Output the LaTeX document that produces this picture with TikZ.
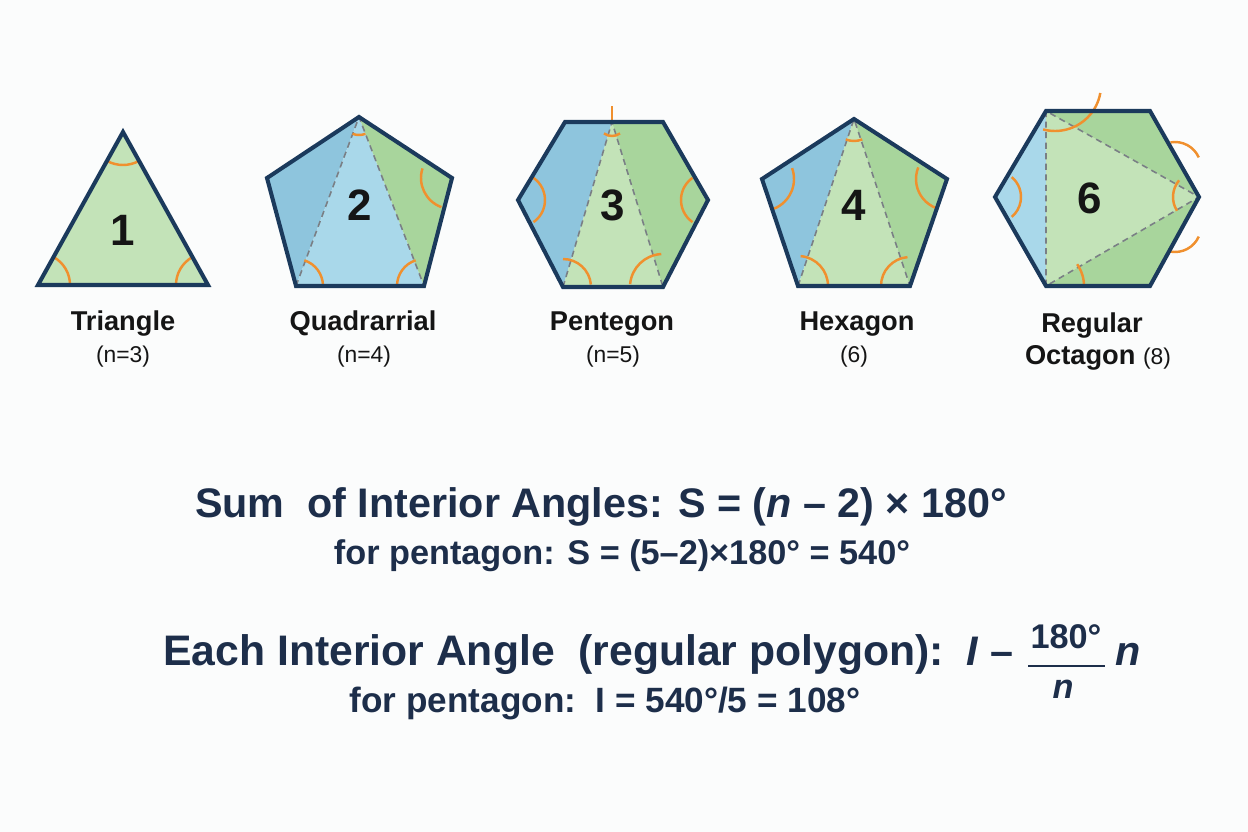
\documentclass[tikz,border=0pt]{standalone}
\usepackage{fontspec}
\setmainfont{Liberation Sans}
\usetikzlibrary{positioning}
\definecolor{paper}{HTML}{FBFCFC}
\definecolor{rimblue}{HTML}{1B3A5C}
\definecolor{deepsky}{HTML}{8EC5DD}
\definecolor{palesky}{HTML}{A9D8EA}
\definecolor{deepleaf}{HTML}{A8D59C}
\definecolor{paleleaf}{HTML}{C3E3B8}
\definecolor{angorange}{HTML}{F0902E}
\definecolor{splitgray}{HTML}{7A7F85}
\definecolor{ink}{HTML}{1D2E4A}
\definecolor{labelink}{HTML}{151515}
\tikzset{every node/.style={inner sep=0pt},
  rim/.style={draw=rimblue, line width=2.3pt, line join=miter},
  diagline/.style={draw=splitgray, line width=0.9pt, dash pattern=on 3.5pt off 2.5pt},
  ang/.style={draw=angorange, line width=1.4pt},
  bignum/.style={anchor=base, text=labelink, font=\bfseries\fontsize{25}{29}\selectfont},
  shapename/.style={anchor=base, text=labelink, font=\bfseries\fontsize{15.5}{18}\selectfont},
  ncount/.style={anchor=base, text=labelink, font=\fontsize{13}{16}\selectfont},
  rulebig/.style={anchor=base, text=ink, font=\bfseries\fontsize{23.5}{28}\selectfont},
  rulesmall/.style={anchor=base, text=ink, font=\bfseries\fontsize{19.5}{23}\selectfont}}

\begin{document}
\begin{tikzpicture}[x=0.02cm,y=-0.02cm]
  \useasboundingbox[fill=paper] (0,0) rectangle (1248,832);
  % triangle
  \coordinate (tA) at (123,132); \coordinate (tB) at (38,285); \coordinate (tC) at (208,285);
  \fill[paleleaf] (tA) -- (tB) -- (tC) -- cycle;
  \draw[ang] (tA) ++(61:33) arc[start angle=61, end angle=119, radius=33];
  \draw[ang] (tB) ++(-61:32) arc[start angle=-61, end angle=0, radius=32];
  \draw[ang] (tC) ++(180:32) arc[start angle=180, end angle=241, radius=32];
  \draw[rim] (tA) -- (tB) -- (tC) -- cycle;
  \node[bignum] (num1) at (123,245) {1};
  \node[shapename] (name1) at (123,330) {Triangle};
  \node[ncount] (cnt1) at (123,362) {(n=3)};
  % first pentagon
  \coordinate (pT) at (359,117); \coordinate (pL) at (267,178); \coordinate (pR) at (452,178);
  \coordinate (pBL) at (296,286); \coordinate (pBR) at (424,286);
  \fill[deepsky] (pT) -- (pL) -- (pBL) -- cycle;
  \fill[palesky] (pT) -- (pBL) -- (pBR) -- cycle;
  \fill[deepleaf] (pT) -- (pBR) -- (pR) -- cycle;
  \draw[diagline] (pBL) -- (pT) -- (pBR);
  \draw[ang] (pT) ++(69:18) arc[start angle=69, end angle=111, radius=18];
  \draw[ang] (pR) ++(110:31) arc[start angle=110, end angle=198, radius=31];
  \draw[ang] (pBL) ++(-72:27) arc[start angle=-72, end angle=0, radius=27];
  \draw[ang] (pBR) ++(180:27) arc[start angle=180, end angle=252, radius=27];
  \draw[rim] (pT) -- (pR) -- (pBR) -- (pBL) -- (pL) -- cycle;
  \node[bignum] (num2) at (360,220) {2};
  \node[shapename] (name2) at (363,330) {Quadrarrial};
  \node[ncount] (cnt2) at (364,362) {(n=4)};
  % first hexagon
  \coordinate (hTL) at (565,122); \coordinate (hTR) at (663,122); \coordinate (hR) at (708,200);
  \coordinate (hBR) at (663,287); \coordinate (hBL) at (563,287); \coordinate (hL) at (518,200);
  \coordinate (hM) at (612,122);
  \fill[deepsky] (hM) -- (hTL) -- (hL) -- (hBL) -- cycle;
  \fill[paleleaf] (hM) -- (hBL) -- (hBR) -- cycle;
  \fill[deepleaf] (hM) -- (hTR) -- (hR) -- (hBR) -- cycle;
  \draw[diagline] (hBL) -- (hM) -- (hBR);
  \draw[ang] (hM) ++(0,-16) -- ++(0,18);
  \draw[ang] (hM) ++(55:14) arc[start angle=55, end angle=125, radius=14];
  \draw[ang] (hL) ++(-55:27) arc[start angle=-55, end angle=55, radius=27];
  \draw[ang] (hR) ++(125:27) arc[start angle=125, end angle=235, radius=27];
  \draw[ang] (hBL) ++(-90:28) arc[start angle=-90, end angle=-5, radius=28];
  \draw[ang] (hBR) ++(185:33) arc[start angle=185, end angle=267, radius=33];
  \draw[rim] (hTL) -- (hTR) -- (hR) -- (hBR) -- (hBL) -- (hL) -- cycle;
  \node[bignum] (num3) at (613,220) {3};
  \node[shapename] (name3) at (612,330) {Pentegon};
  \node[ncount] (cnt3) at (613,362) {(n=5)};
  % second pentagon
  \coordinate (qT) at (854,119); \coordinate (qL) at (762,179); \coordinate (qR) at (947,179);
  \coordinate (qBL) at (798,286); \coordinate (qBR) at (910,286);
  \fill[deepsky] (qT) -- (qL) -- (qBL) -- cycle;
  \fill[paleleaf] (qT) -- (qBL) -- (qBR) -- cycle;
  \fill[deepleaf] (qT) -- (qBR) -- (qR) -- cycle;
  \draw[diagline] (qBL) -- (qT) -- (qBR);
  \draw[ang] (qT) ++(68:22) arc[start angle=68, end angle=112, radius=22];
  \draw[ang] (qL) ++(-20:32) arc[start angle=-20, end angle=68, radius=32];
  \draw[ang] (qR) ++(110:31) arc[start angle=110, end angle=202, radius=31];
  \draw[ang] (qBL) ++(-85:30) arc[start angle=-85, end angle=0, radius=30];
  \draw[ang] (qBR) ++(180:29) arc[start angle=180, end angle=265, radius=29];
  \draw[rim] (qT) -- (qR) -- (qBR) -- (qBL) -- (qL) -- cycle;
  \node[bignum] (num4) at (854,220) {4};
  \node[shapename] (name4) at (857,330) {Hexagon};
  \node[ncount] (cnt4) at (854,362) {(6)};
  % second hexagon
  \coordinate (oTL) at (1046,111); \coordinate (oTR) at (1150,111); \coordinate (oR) at (1199,197);
  \coordinate (oBR) at (1150,286); \coordinate (oBL) at (1046,286); \coordinate (oL) at (995,197);
  \fill[palesky] (oTL) -- (oL) -- (oBL) -- cycle;
  \fill[paleleaf] (oTL) -- (oBL) -- (oR) -- cycle;
  \fill[deepleaf] (oTL) -- (oTR) -- (oR) -- cycle;
  \fill[deepleaf] (oBL) -- (oR) -- (oBR) -- cycle;
  \draw[diagline] (oTL) -- (oBL) -- (oR) -- cycle;
  \draw[ang] (oTL) ++(9,-26) ++(105:46) arc[start angle=105, end angle=10, radius=46];
  \draw[ang] (oL) ++(-50:26) arc[start angle=-50, end angle=50, radius=26];
  \draw[ang] (oR) ++(148:26) arc[start angle=148, end angle=220, radius=26];
  \draw[ang] (oR) ++(-24,-29) ++(-100:26) arc[start angle=-100, end angle=-24, radius=26];
  \draw[ang] (oR) ++(-24,29) ++(100:26) arc[start angle=100, end angle=24, radius=26];
  \draw[ang] (oBL) ++(-35:38) arc[start angle=-35, end angle=2, radius=38];
  \draw[rim] (oTL) -- (oTR) -- (oR) -- (oBR) -- (oBL) -- (oL) -- cycle;
  \node[bignum] (num6) at (1090,213) {6};
  \node[shapename] (name5) at (1092,332) {Regular};
  \node[shapename] (name5b) at (1098,364) {Octagon {\mdseries\fontsize{13}{16}\selectfont(8)}};
  % formulas
  \node[rulebig] (sumrule) at (601,517) {Sum\ \ of Interior Angles: S = (\textit{n} – 2) × 180°};
  \node[rulesmall] (sumcase) at (622,564) {for pentagon: S = (5–2)×180° = 540°};
  \node[rulebig, anchor=base west, font=\bfseries\fontsize{24.3}{29}\selectfont] (eachrule) at (163,665) {Each Interior Angle\ \ (regular polygon):};
  \node[rulebig, anchor=base west] (ivar) at (966,665) {\textit{I} –};
  \node[rulesmall] (fnum) at (1066,648) {180°};
  \node[rulesmall] (fden) at (1063,698) {\textit{n}};
  \node[rulebig] (fn) at (1128,665) {\textit{n}};
  \coordinate (barL) at (1028,666); \coordinate (barR) at (1105,666);
  \draw[ink, line width=1.6pt] (barL) -- (barR);
  \node[rulesmall, font=\bfseries\fontsize{20}{24}\selectfont] (eachcase) at (605,712) {for pentagon:\ \ I = 540°/5 = 108°};
\end{tikzpicture}
\end{document}
